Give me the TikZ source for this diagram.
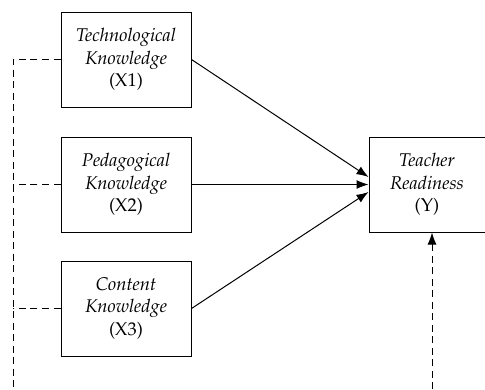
\documentclass[tikz,border=0pt]{standalone}
\usepackage[T1]{fontenc}
\usepackage{mathpazo}
\usetikzlibrary{arrows.meta,positioning}

\begin{document}
\begin{tikzpicture}[x=1bp,y=-1bp,>={Latex[length=12bp,width=9bp]},
  box/.style={draw,line width=1bp,minimum width=130bp,minimum height=95bp,
    align=center,inner sep=0pt,font=\fontsize{18.5}{22.5}\selectfont},
  link/.style={dash pattern=on 7bp off 4.5bp,line width=1bp}]

\useasboundingbox (0,0) rectangle (485,389);

\node[box]   (x2) at (126,184.5)     {\textit{Pedagogical}\\\textit{Knowledge}\\(X2)};
 \node[box]  (x1) [above=29bp of x2] {\textit{Technological}\\\textit{Knowledge}\\(X1)};
\node[box]   (x3) [below=28bp of x2] {\textit{Content}\\\textit{Knowledge}\\(X3)};
	\node[box,minimum width=116bp] (y) [right=177bp of x2] {\textit{Teacher}\\\textit{Readiness}\\(Y)};

\coordinate (bl) at (13,389);
\coordinate (br) at (432,389);

% direct effects
\draw[->,line width=1bp] (x1.east) -- ([yshift=7.5bp]y.west);
\draw[->,line width=1bp] (x2.east) -- (y.west);
\draw[->,line width=1bp] (x3.east) -- ([yshift=-7.5bp]y.west);

% simultaneous effect
\draw[link] (x1.west) -- (x1.west -| bl) -- (bl);
\draw[link] (x2.west) -- (x2.west -| bl);
\draw[link] (x3.west) -- (x3.west -| bl);
\draw[link,->] (br) -- (br |- y.south);

\end{tikzpicture}
\end{document}
